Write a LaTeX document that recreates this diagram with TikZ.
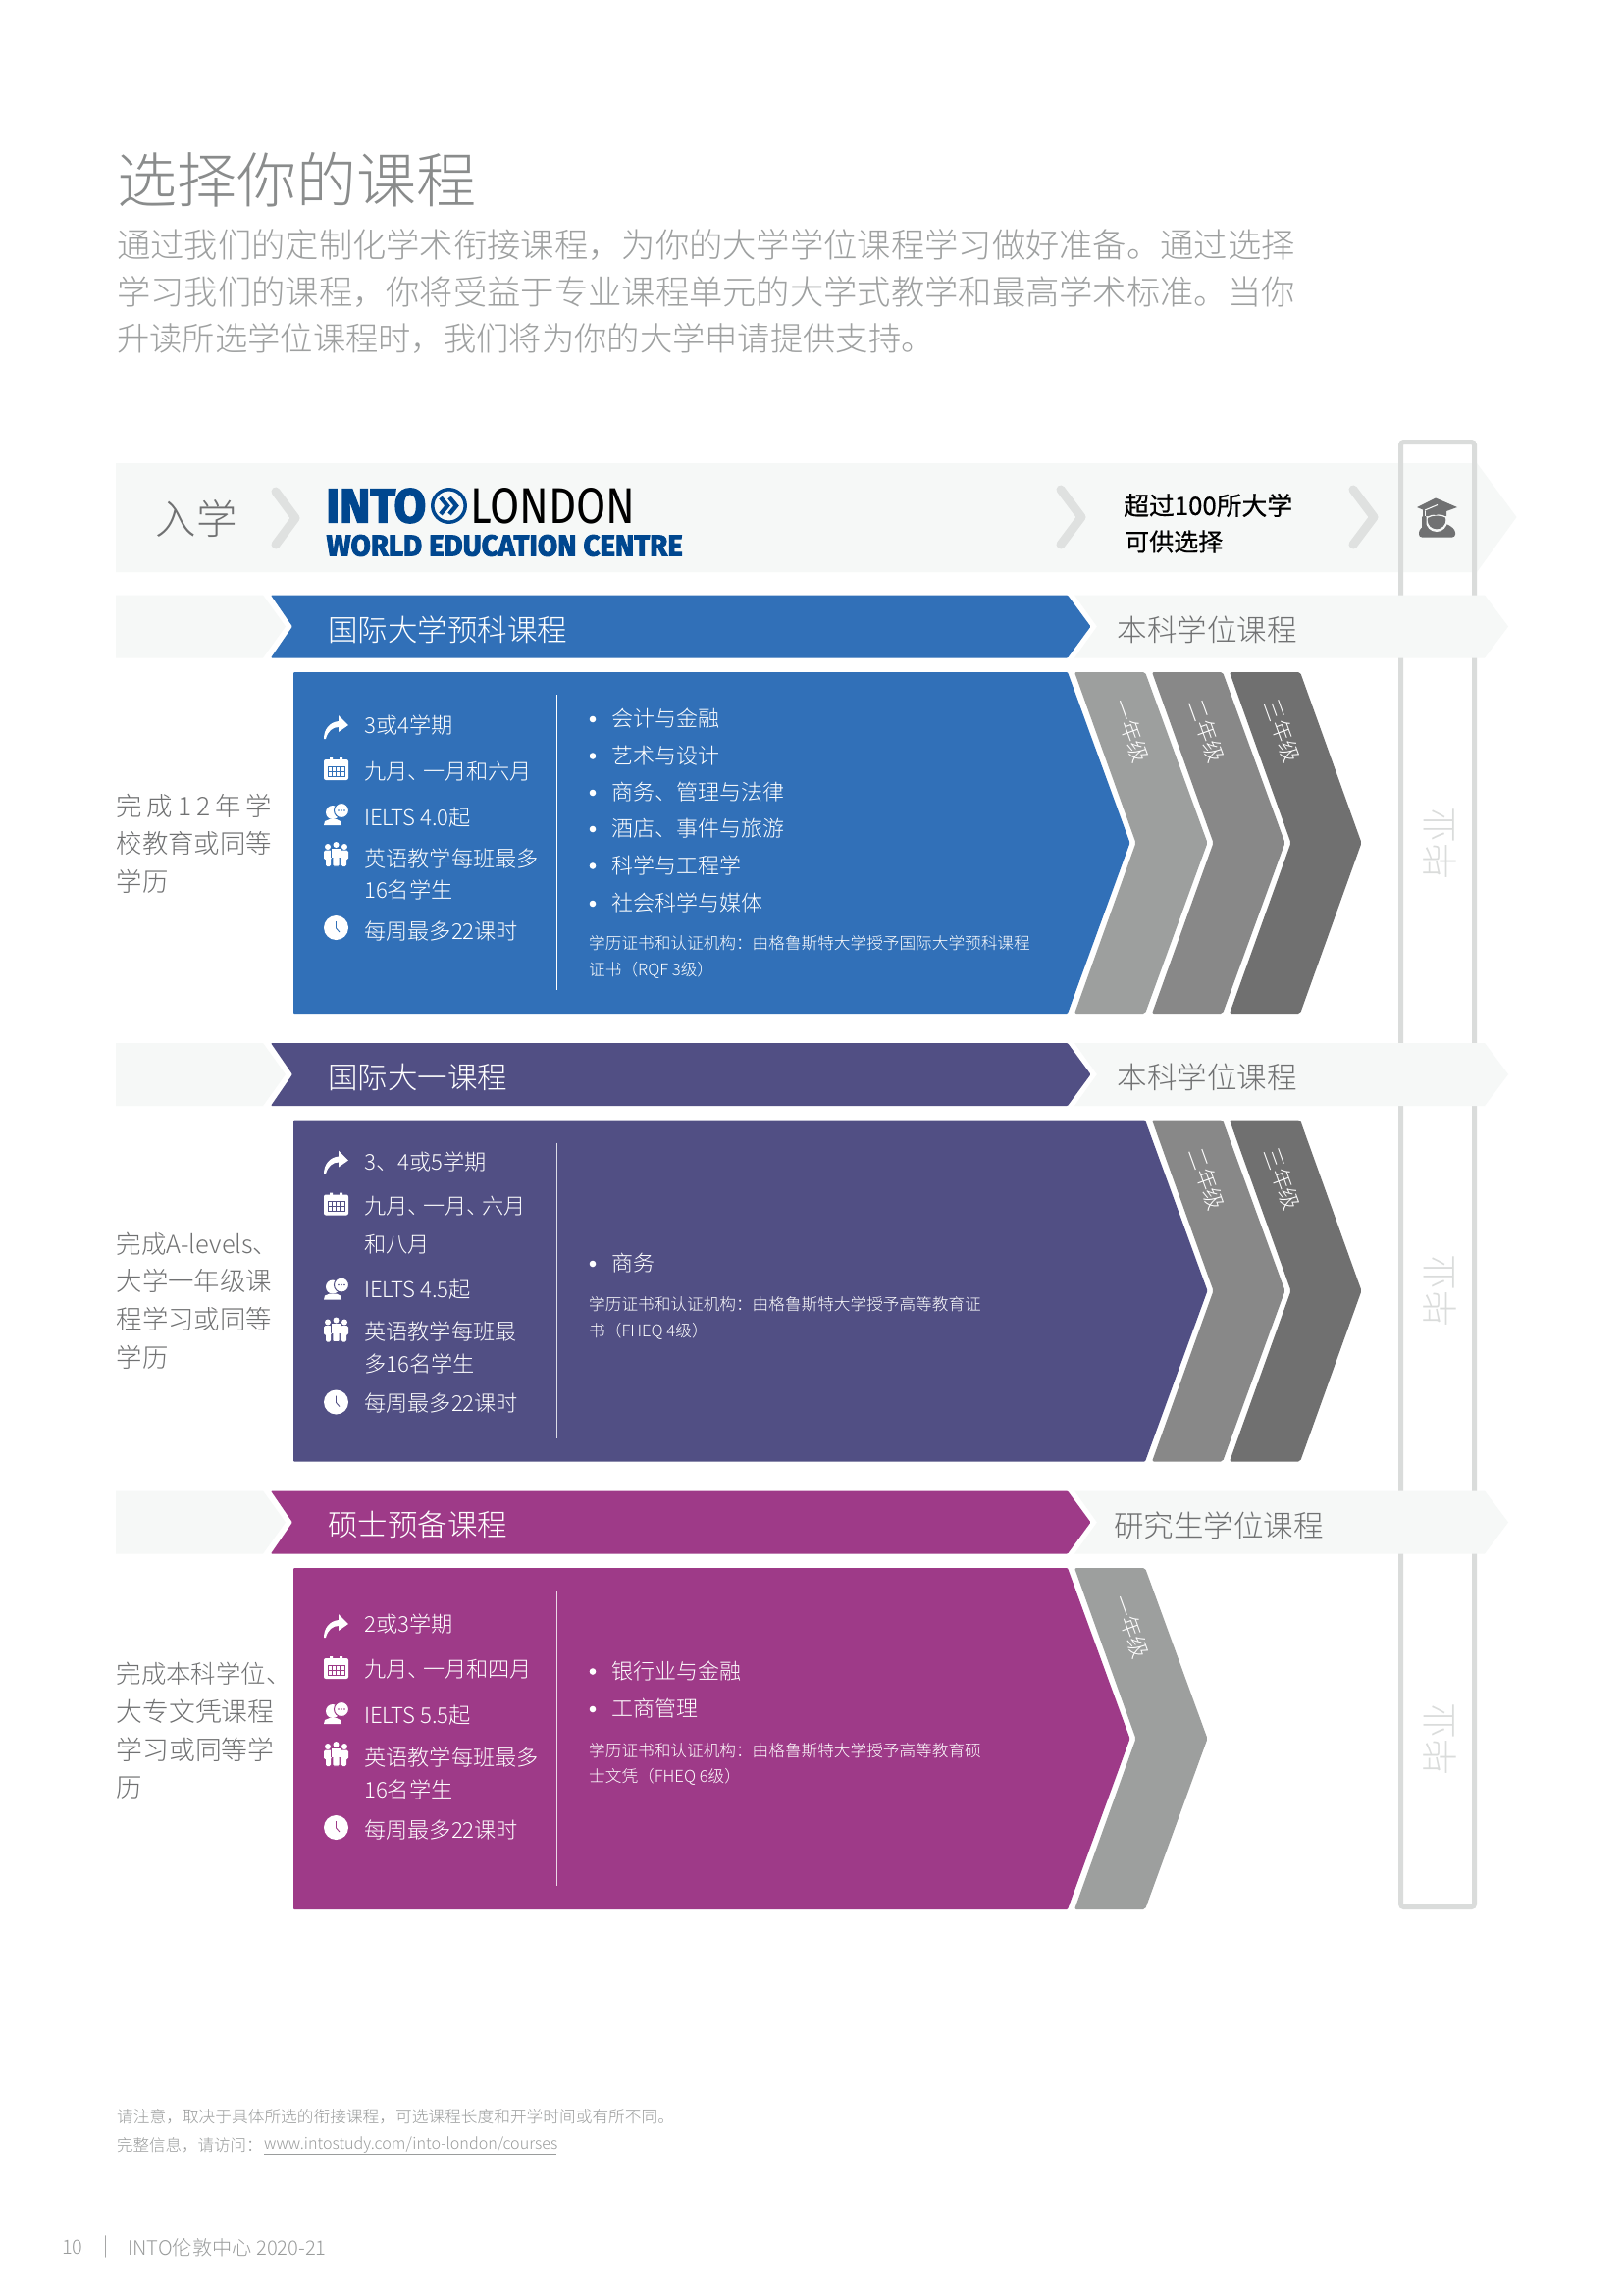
\documentclass[tikz,border=0pt]{standalone}
\usepackage{fontspec}
\usepackage{graphicx}
\setmainfont{Noto Sans CJK SC Light}
\newfontfamily\cjkreg[FakeBold=0.6]{Noto Sans CJK SC}
\newfontfamily\logof{Fira Sans}
\newfontfamily\logoh[FakeBold=3]{Fira Sans Bold}
\definecolor{bandbg}{HTML}{F6F8F7}
\definecolor{chevc}{HTML}{DFE1E0}
\definecolor{boxc}{HTML}{DADCDB}
\definecolor{labc}{HTML}{707172}
\definecolor{titlec}{HTML}{8A8C8C}
\definecolor{parac}{HTML}{9EA0A0}
\definecolor{footc}{HTML}{9A9C9C}
\definecolor{logobl}{HTML}{00478F}
\definecolor{cblue}{HTML}{3170B8}
\definecolor{cnavy}{HTML}{514F84}
\definecolor{cmag}{HTML}{9E3A88}
\definecolor{yone}{HTML}{9D9F9E}
\definecolor{ytwo}{HTML}{888888}
\definecolor{ythree}{HTML}{707070}
\newcount\tn
\newcommand\dun{、\kern-.3em}
% \T{x}{y}{size}{colour}{text}
\newcommand\T[5]{\global\advance\tn by 1
  \node[name=t\the\tn,anchor=west,inner sep=0pt,text=#4] at (#1,#2)
  {\fontsize{#3}{#3}\selectfont\rule[-.12em]{0pt}{.92em}#5};}
\newcommand\Yr[3]{\global\advance\tn by 1
  \node[name=t\the\tn,rotate=-70,inner sep=0pt,text=white] at (#1,#2)
  {\fontsize{22}{22}\selectfont #3};}
\newcommand\ChevA{\fill[yone,rounded corners=2pt] (1095,685)--(1167,685)--(1230.5,859)--(1167,1033)--(1095,1033)--(1157.5,859)--cycle;\Yr{1153}{745}{一年级}}
\newcommand\ChevB{\fill[ytwo,rounded corners=2pt] (1174,685)--(1246,685)--(1309.5,859)--(1246,1033)--(1174,1033)--(1236.5,859)--cycle;\Yr{1230}{745}{二年级}}
\newcommand\ChevC{\fill[ythree,rounded corners=2pt] (1253,685)--(1325,685)--(1387.5,859)--(1325,1033)--(1253,1033)--(1315.5,859)--cycle;\Yr{1307}{745}{三年级}}
% \Band{colour}{title}{label}{labelx}
\newcommand\Band[4]{
  \fill[bandbg] (118,606.5)--(268,606.5)--(291,638.5)--(268,670.5)--(118,670.5)--cycle;
  \fill[bandbg] (1095,606.5)--(1513,606.5)--(1537,638.5)--(1513,670.5)--(1095,670.5)--(1118,638.5)--cycle;
  \fill[#1,rounded corners=1pt] (276,606.5)--(1088,606.5)--(1111.5,638.5)--(1088,670.5)--(276,670.5)--(298,638.5)--cycle;
  \T{334}{642}{30.5}{white}{#2}
  \T{#4}{642}{30.5}{labc}{#3}
  \global\advance\tn by 1
  \node[name=t\the\tn,rotate=90,inner sep=0pt,text=boxc] at (1467,859) {\fontsize{37}{37}\selectfont 毕业};
}
% \Panel{colour}{shoulder}{tip}
\newcommand\Panel[3]{\fill[#1,rounded corners=1pt] (299,685)--(#2,685)--(#3,859)--(#2,1033)--(299,1033)--cycle;}
\newcommand\Bul[3]{\fill[white] (604,#1) circle (3.3);\T{623}{#1}{22}{white}{#2}}
\newcommand\Pt[3]{\T{#1}{#2}{22.2}{white}{#3}}
% icons: top left at (x,y), second colour #3
\newcommand\IcoArrow[3]{\begin{scope}[shift={(#1,#2)}]
  \fill[white] (0,24)..controls (0,14) and (6,7) ..(15,6)--(15,0)--(25,10)--(15,17)--(15,12)..controls (9,12) and (4,16)..(2,24)--cycle;
  \end{scope}}
\newcommand\IcoCal[3]{\begin{scope}[shift={(#1,#2)}]
  \fill[white,rounded corners=2pt] (0,2) rectangle (25,23);
  \fill[white] (6,0) rectangle (9,4) (16,0) rectangle (19,4);
  \draw[#3,line width=.9pt] (4,9) rectangle (21,19) (4,14)--(21,14) (8.25,9)--(8.25,19) (12.5,9)--(12.5,19) (16.75,9)--(16.75,19);
  \end{scope}}
\newcommand\IcoTalk[3]{\begin{scope}[shift={(#1,#2)}]
  \fill[white] (9,9) circle (7);
  \fill[white] (0,22)--(1,18)--(6,16)--(13,16)--(17,18)--(18,22)--cycle;
  \fill[white,draw=#3,line width=1pt] (18,7) circle (7.5);
  \fill[#3] (15,7) circle (.9) (18,7) circle (.9) (21,7) circle (.9);
  \end{scope}}
\newcommand\IcoPeople[3]{\begin{scope}[shift={(#1,#2)}]
  \fill[white] (4,5) circle (3) (21,5) circle (3);
  \fill[white,rounded corners=1.5pt] (0,8.5) rectangle (8,18) (2,16) rectangle (7,25) (17,8.5) rectangle (25,18) (18,16) rectangle (23,25);
  \fill[white,draw=#3,line width=.8pt,rounded corners=1.5pt] (7.5,6.5) rectangle (17.5,17);
  \fill[white] (12.5,3) circle (3);
  \fill[white,draw=#3,line width=.8pt,rounded corners=1pt] (9,15) rectangle (16,25);
  \fill[white] (8,6.8) rectangle (17,16);
  \end{scope}}
\newcommand\IcoClock[3]{\begin{scope}[shift={(#1,#2)}]
  \fill[white] (12.5,12.5) circle (12.5);
  \draw[#3,line width=.9pt] (12.5,6)--(12.5,13)--(16,17);
  \end{scope}}
\begin{document}
\begin{tikzpicture}[x=1pt,y=-1pt]
\useasboundingbox (0,0) rectangle (1654,2339);
\fill[white] (0,0) rectangle (1654,2339);
% heading
\T{119}{185}{61}{titlec}{选择你的课程}
\T{119}{250.5}{34.3}{parac}{通过我们的定制化学术衔接课程，为你的大学学位课程学习做好准备。通过选择}
\T{119}{298}{34.3}{parac}{学习我们的课程，你将受益于专业课程单元的大学式教学和最高学术标准。当你}
\T{119}{345.5}{33.3}{parac}{升读所选学位课程时，我们将为你的大学申请提供支持。}
% top band
\fill[bandbg] (118,472)--(1505,472)--(1545.5,527)--(1505,583)--(118,583)--cycle;
\draw[boxc,line width=5pt,rounded corners=3pt] (1427.5,450.5) rectangle (1502.5,1943.5);
\T{158.5}{529.5}{41.5}{labc}{入学}
\draw[chevc,line width=9pt,line cap=round,line join=round] (281,501)--(301,528)--(281,555);
\draw[chevc,line width=9pt,line cap=round,line join=round] (1081,499)--(1102,527)--(1081,555);
\draw[chevc,line width=9pt,line cap=round,line join=round] (1379,499)--(1400,527)--(1379,555);
% logo
\node[name=logoa,anchor=west,inner sep=0pt,text=logobl] at (332,515.5) {\resizebox{102pt}{34.5pt}{\logoh INTO}};
\draw[logobl,line width=3.5pt] (457.5,515.5) circle (16.7);
\draw[logobl,line width=4.4pt] (449,507)--(456,515.5)--(449,524) (458,507)--(465,515.5)--(458,524);
\node[name=logolo,anchor=west,inner sep=0pt,text=black] at (479,516) {\resizebox{168pt}{36pt}{\logof LONDON}};
\node[name=logoc,anchor=west,inner sep=0pt,text=logobl] at (332.5,556) {\resizebox{363pt}{21.5pt}{\logoh WORLD EDUCATION CENTRE}};
\global\advance\tn by 1
\node[name=t\the\tn,anchor=west,inner sep=0pt,text=black] at (1145,515) {\fontsize{25.8}{25.8}\selectfont\cjkreg 超过100所大学};
\global\advance\tn by 1
\node[name=t\the\tn,anchor=west,inner sep=0pt,text=black] at (1146,552) {\fontsize{25}{25}\selectfont\cjkreg 可供选择};
% graduate icon
\begin{scope}[shift={(1445,507)}]
\fill[labc,rounded corners=3pt] (1,40.5)--(1,33)--(9,27)--(30,27)--(38,33)--(38,40.5)--cycle;
\fill[bandbg] (19,24) circle (11);
\fill[labc] (19,23) circle (9.3);
\fill[labc] (8,12)--(18,18)--(29,12)--(29,19)--(8,19)--cycle;
\draw[bandbg,line width=1.2pt] (9,20.5)..controls (15,17) and (24,17)..(29.5,20.5);
\fill[labc] (18,.5)--(40,10)--(18,18)--(-1,10)--cycle;
\draw[bandbg,line width=1.1pt] (7,13)--(20,7.5);
\draw[labc,line width=2.2pt] (6,11)--(6,20);
\fill[labc,rounded corners=1pt] (4,19) rectangle (8.5,32);
\end{scope}
% row 1
\begin{scope}
\Band{cblue}{国际大学预科课程}{本科学位课程}{1138.5}
\Panel{cblue}{1088}{1151.5}
\ChevA\ChevB\ChevC
\draw[white,line width=1.2pt] (567.5,708)--(567.5,1009);
\IcoArrow{330}{729}{cblue}\Pt{371}{739}{3或4学期}
\IcoCal{330}{772}{cblue}\Pt{371}{787}{九月\dun 一月和六月}
\IcoTalk{330}{819}{cblue}\Pt{371}{834}{IELTS 4.0起}
\IcoPeople{330}{858}{cblue}\Pt{371}{875}{英语教学每班最多}
\Pt{371}{907.5}{16名学生}
\IcoClock{330}{933}{cblue}\Pt{371}{949.5}{每周最多22课时}
\Bul{733}{会计与金融}{}
\Bul{770.5}{艺术与设计}{}
\Bul{808}{商务、管理与法律}{}
\Bul{845}{酒店、事件与旅游}{}
\Bul{882.5}{科学与工程学}{}
\Bul{921}{社会科学与媒体}{}
\T{600}{961.5}{16.65}{white}{学历证书和认证机构：由格鲁斯特大学授予国际大学预科课程}
\T{600}{989}{16.65}{white}{证书（RQF 3级）}
\end{scope}
% row 2
\begin{scope}[shift={(0,456.5)}]
\Band{cnavy}{国际大一课程}{本科学位课程}{1138.5}
\Panel{cnavy}{1167}{1230.5}
\ChevB\ChevC
\draw[white!80!cnavy,line width=1.2pt] (567.5,708)--(567.5,1009);
\IcoArrow{330}{716}{cnavy}\Pt{371}{727.5}{3、4或5学期}
\IcoCal{330}{759}{cnavy}\Pt{371}{773.5}{九月\dun 一月\dun 六月}
\Pt{371}{812.5}{和八月}
\IcoTalk{330}{846}{cnavy}\Pt{371}{858.5}{IELTS 4.5起}
\IcoPeople{330}{886}{cnavy}\Pt{371}{900.5}{英语教学每班最}
\Pt{371}{933.5}{多16名学生}
\IcoClock{330}{960}{cnavy}\Pt{371}{973.5}{每周最多22课时}
\Bul{831.5}{商务}{}
\T{600}{872.5}{16.65}{white}{学历证书和认证机构：由格鲁斯特大学授予高等教育证}
\T{600}{900.5}{16.65}{white}{书（FHEQ 4级）}
\end{scope}
% row 3
\begin{scope}[shift={(0,913)}]
\Band{cmag}{硕士预备课程}{研究生学位课程}{1135}
\Panel{cmag}{1088}{1151.5}
\ChevA
\draw[white!80!cmag,line width=1.2pt] (567.5,708)--(567.5,1009);
\IcoArrow{330}{732}{cmag}\Pt{371}{742.5}{2或3学期}
\IcoCal{330}{775}{cmag}\Pt{371}{789}{九月\dun 一月和四月}
\IcoTalk{330}{822}{cmag}\Pt{371}{836}{IELTS 5.5起}
\IcoPeople{330}{862}{cmag}\Pt{371}{878}{英语教学每班最多}
\Pt{371}{911}{16名学生}
\IcoClock{330}{937}{cmag}\Pt{371}{952}{每周最多22课时}
\Bul{790.5}{银行业与金融}{}
\Bul{829}{工商管理}{}
\T{600}{871}{16.65}{white}{学历证书和认证机构：由格鲁斯特大学授予高等教育硕}
\T{600}{898}{16.65}{white}{士文凭（FHEQ 6级）}
\end{scope}
% left column
\global\advance\tn by 1
\node[name=t\the\tn,anchor=west,inner sep=0pt,text=labc] at (118.5,821) {\fontsize{26.4}{26.4}\selectfont\hbox to 158pt{完\hfil 成\hfil 1\hfil 2\hfil 年\hfil 学}};
\T{118.5}{860}{26.4}{labc}{校教育或同等}
\T{118.5}{899}{26.4}{labc}{学历}
\T{118.5}{1268}{25.4}{labc}{完成A-levels、}
\T{118.5}{1306}{26.4}{labc}{大学一年级课}
\T{118.5}{1345}{26.4}{labc}{程学习或同等}
\T{118.5}{1384}{26.4}{labc}{学历}
\T{118.5}{1706}{25.4}{labc}{完成本科学位、}
\T{118.5}{1745}{26.8}{labc}{大专文凭课程}
\T{118.5}{1784}{26.8}{labc}{学习或同等学}
\T{118.5}{1823}{26.4}{labc}{历}
% footer
\T{119}{2157}{16.7}{footc}{请注意，取决于具体所选的衔接课程，可选课程长度和开学时间或有所不同。}
\T{119}{2186}{16.5}{footc}{完整信息，请访问：}
\T{269}{2186}{16.1}{footc}{www.intostudy.com/into-london/courses}
\draw[footc,line width=.8pt] (269,2195)--(567,2195);
\T{63}{2291}{20}{footc}{10}
\T{105}{2290}{20}{footc}{|}
\T{130}{2291}{20.2}{footc}{INTO伦敦中心 2020-21}
\end{tikzpicture}
\end{document}
